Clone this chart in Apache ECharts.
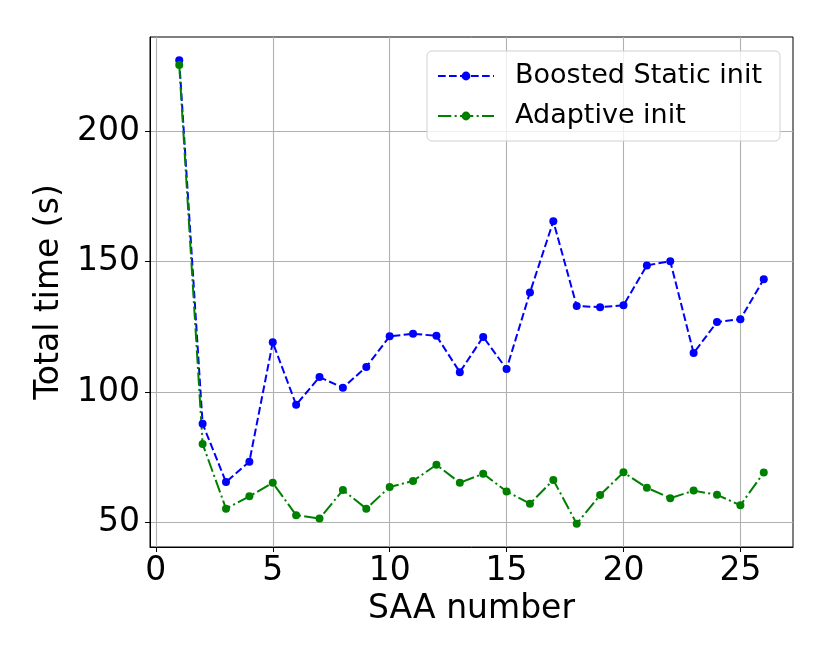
<!DOCTYPE html>
<html>
<head>
<meta charset="utf-8">
<script src="https://cdn.jsdelivr.net/npm/echarts@6/dist/echarts.min.js"></script>
<style>
html,body{margin:0;padding:0;background:#fff;}
#c{width:830px;height:664px;}
</style>
</head>
<body>
<div id="c"></div>
<script>
const saaNumbers = [1,2,3,4,5,6,7,8,9,10,11,12,13,14,15,16,17,18,19,20,21,22,23,24,25,26];
const boostedStatic = [227.1,87.8,65.5,73.3,119.0,95.1,105.7,101.6,109.6,121.3,122.3,121.5,107.6,121.1,108.8,138.1,165.4,132.9,132.5,133.2,148.5,150.1,114.9,126.8,127.9,143.2];
const adaptive = [225.3,80.1,55.3,60.0,65.2,52.8,51.5,62.4,55.3,63.6,65.9,72.1,65.2,68.7,61.9,57.2,66.3,49.5,60.5,69.2,63.3,59.3,62.2,60.6,56.6,69.1];
const xTicks = [0,5,10,15,20,25];
const yTicks = [50,100,150,200];

const font = 'DejaVu Sans';
const chart = echarts.init(document.getElementById('c'), null, {renderer:'canvas'});
const toPairs = (xs, ys) => xs.map((x,i)=>[x, ys[i]]);

chart.setOption({
  animation:false,
  backgroundColor:'#ffffff',
  grid:{left:150, top:37, right:37, bottom:117, show:true, borderColor:'#000', borderWidth:1, containLabel:false},
  xAxis:{
    type:'value', min:-0.25, max:27.25,
    name:'SAA number', nameLocation:'middle', nameGap:44,
    nameTextStyle:{fontFamily:font, fontSize:33, color:'#000'},
    axisLine:{show:true, onZero:false, lineStyle:{color:'#000', width:1}},
    axisTick:{show:true, length:5, lineStyle:{color:'#000', width:1}, customValues:xTicks},
    axisLabel:{fontFamily:font, fontSize:33, color:'#000', margin:8, customValues:xTicks},
    splitLine:{show:true, lineStyle:{color:'#b0b0b0', width:1.1}}
  },
  yAxis:{
    type:'value', min:40.6, max:236.0,
    name:'Total time (s)', nameLocation:'middle', nameGap:76,
    nameTextStyle:{fontFamily:font, fontSize:33, color:'#000'},
    axisLine:{show:true, onZero:false, lineStyle:{color:'#000', width:1}},
    axisTick:{show:true, length:5, lineStyle:{color:'#000', width:1}, customValues:yTicks},
    axisLabel:{fontFamily:font, fontSize:33, color:'#000', margin:10, customValues:yTicks},
    splitLine:{show:true, lineStyle:{color:'#b0b0b0', width:1.1}}
  },
  legend:{
    orient:'vertical', left:427, top:51,
    backgroundColor:'rgba(255,255,255,0.8)', borderColor:'#d0d0d0', borderWidth:1, borderRadius:5,
    padding:[10,18,10,10], itemWidth:56, itemHeight:11, itemGap:10,
    textStyle:{fontFamily:font, fontSize:27, color:'#000', lineHeight:30, padding:[0,0,0,16]},
    data:['Boosted Static init','Adaptive init']
  },
  series:[
    {name:'Boosted Static init', type:'line', data:toPairs(saaNumbers, boostedStatic),
     symbol:'circle', symbolSize:8, color:'#0000ff',
     lineStyle:{color:'#0000ff', width:2, type:[7.7,3.3]}, itemStyle:{color:'#0000ff'}},
    {name:'Adaptive init', type:'line', data:toPairs(saaNumbers, adaptive),
     symbol:'circle', symbolSize:8, color:'#008000',
     lineStyle:{color:'#008000', width:2, type:[13.3,3.3,2.1,3.3]}, itemStyle:{color:'#008000'}}
  ]
});
</script>
</body>
</html>
